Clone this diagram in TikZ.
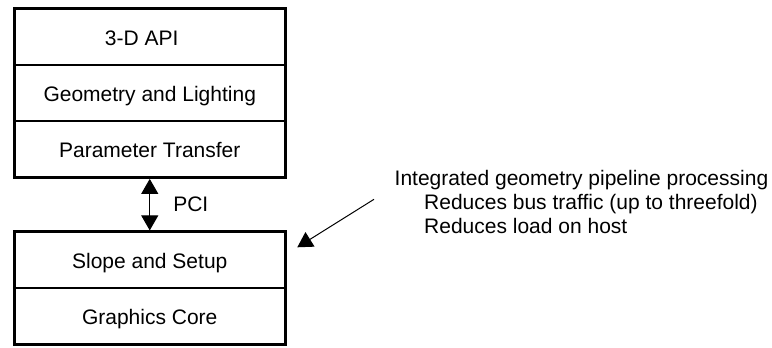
\documentclass[tikz,border=0pt]{standalone}
\usepackage{fontspec}
\setmainfont{Liberation Sans}
\usetikzlibrary{positioning,arrows.meta}
\tikzset{
  layer/.style={draw,line width=1.5pt,minimum width=271.5pt,minimum height=56.3pt,
    inner sep=0pt,outer sep=0pt,text height=16.8pt,text depth=0pt},
  stackframe/.style={line width=3pt},
  notetext/.style={anchor=base west,inner sep=0pt},
  tri/.style={-{Triangle[width=17pt,length=15pt]}},
  dbltri/.style={{Triangle[width=17pt,length=15pt]}-{Triangle[width=17pt,length=15pt]}},
}
\begin{document}
\begin{tikzpicture}[x=1pt,y=-1pt,font=\fontsize{21}{23.5}\selectfont]
    \useasboundingbox (0,0) rectangle (772,348);
    % host side
    \node[layer] (api) at (149.75,36.65) {3-D API\hspace*{16pt}};
    \node[layer,below=0pt of api] (geom) {Geometry and Lighting};
    \node[layer,below=0pt of geom] (param) {Parameter Transfer};
    \draw[stackframe] (api.north west) rectangle (param.south east);
    % graphics board
    \node[layer,below=54.5pt of param] (setup) {Slope and Setup};
    \node[layer,below=0pt of setup] (core) {Graphics Core};
    \draw[stackframe] (setup.north west) rectangle (core.south east);
    % bus
    \draw[dbltri,line width=1pt,shorten <=1.5pt,shorten >=1.5pt] (param.south) -- (setup.north)
        node[midway,right=23pt,inner sep=0pt] (pci) {PCI};
    % note
    \node[notetext] (note1) at (394.5,185.5) {Integrated geometry pipeline processing};
    \node[notetext] (note2) at (424,209.5) {Reduces bus traffic (up to threefold)};
    \node[notetext] (note3) at (424,233) {Reduces load on host};
    \coordinate (notetail) at (374,199.3);
    \coordinate (notetip) at (297.3,247.3);
    \draw[tri,line width=1pt] (notetail) -- (notetip);
\end{tikzpicture}
\end{document}
